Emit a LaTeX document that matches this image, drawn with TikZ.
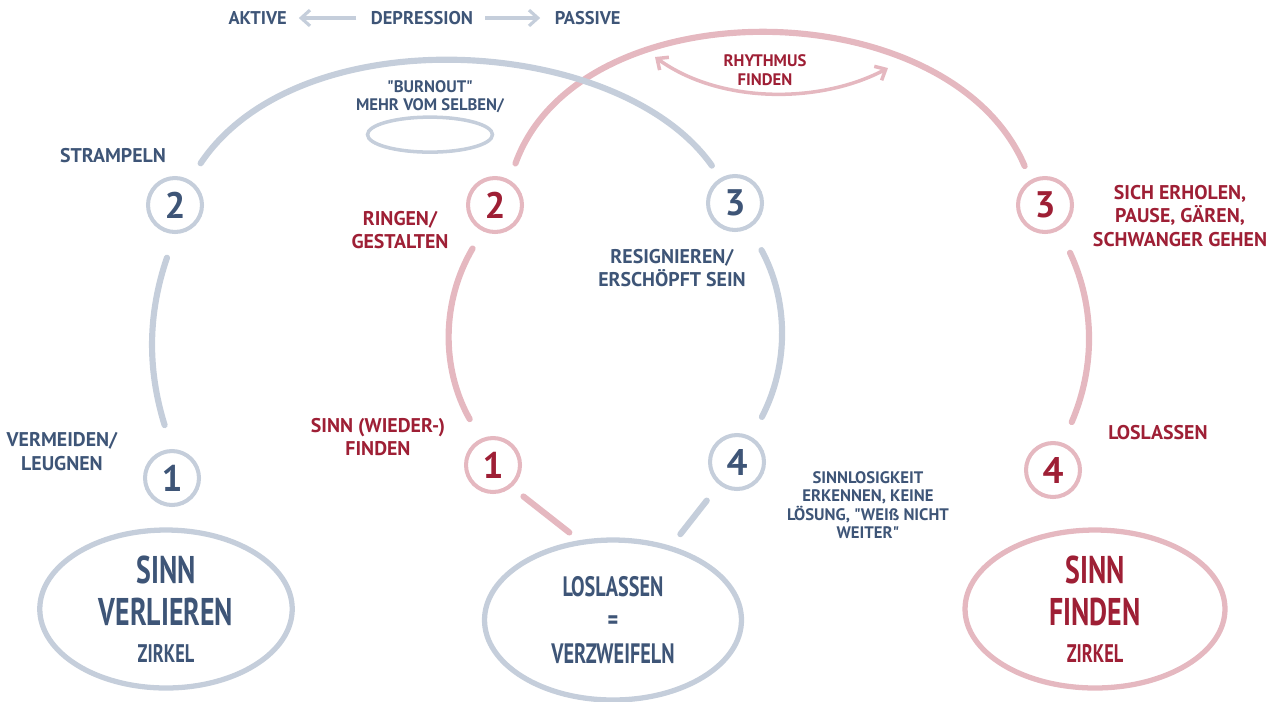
\documentclass[tikz,border=0pt]{standalone}
\usepackage{fontspec}
\setmainfont{PT Sans}
\newfontfamily\tallfont[FakeStretch=0.72]{PT Sans}
\usetikzlibrary{positioning,arrows.meta,shapes.geometric,calc}
\definecolor{cblue}{HTML}{3E5577}
\definecolor{cred}{HTML}{9E1F35}
\definecolor{lblue}{HTML}{C5CEDB}
\definecolor{lred}{HTML}{E5B8C0}

\begin{document}
\begin{tikzpicture}[x=0.02cm,y=-0.02cm,>={Straight Barb[length=5pt,width=9pt]},
  lab/.style={font=\bfseries\fontsize{11.3}{13.6}\selectfont,align=center,inner sep=1pt},
  blab/.style={lab,text=cblue}, rlab/.style={lab,text=cred},
  small/.style={font=\bfseries\fontsize{9.5}{10.4}\selectfont},
  num/.style={circle,draw,line width=2.3pt,minimum size=1.08cm,inner sep=0pt,
              font=\bfseries\fontsize{21}{21}\selectfont},
  bnum/.style={num,draw=lblue,text=cblue}, rnum/.style={num,draw=lred,text=cred},
  zirkel/.style={ellipse,draw,line width=3pt,minimum width=5.05cm,minimum height=3.16cm,
                 align=center,inner sep=0pt,font=\tallfont\bfseries\fontsize{22}{24}\selectfont},
  brush/.style={line width=3.5pt,line cap=round},
  bstroke/.style={brush,draw=lblue}, rstroke/.style={brush,draw=lred}]
\useasboundingbox (0,0) rectangle (1280,701);

% top line
\node[blab,font=\bfseries\fontsize{10.5}{12}\selectfont] (dep) at (422,18) {DEPRESSION};
\node[blab,font=\bfseries\fontsize{10.5}{12}\selectfont,left=1.6cm of dep] (akt) {AKTIVE};
\node[blab,font=\bfseries\fontsize{10.5}{12}\selectfont,right=1.55cm of dep] (pas) {PASSIVE};
\draw[->,draw=lblue,line width=1.8pt,shorten <=0.25cm,shorten >=0.2cm] (dep.west)--(akt.east);
\draw[->,draw=lblue,line width=1.8pt,shorten <=0.2cm,shorten >=0.25cm] (dep.east)--(pas.west);

% numbered steps
\node[bnum] (b1) at (172,478) {1};
\node[bnum] (b2) at (175,205) {2};
\node[bnum] (b3) at (735,203) {3};
\node[bnum] (b4) at (737,462) {4};
\node[rnum] (r1) at (493,465) {1};
\node[rnum] (r2) at (495,205) {2};
\node[rnum] (r3) at (1045,205) {3};
\node[rnum] (r4) at (1053,470) {4};

% circles at the bottom
\node[zirkel,draw=lblue,text=cblue] (eL) at (166,609)
  {SINN\\VERLIEREN\\[-3pt]{\fontsize{14.5}{15}\selectfont ZIRKEL}};
\node[zirkel,draw=lblue,text=cblue,minimum width=5.14cm,minimum height=3.2cm,
      font=\tallfont\bfseries\fontsize{16}{19}\selectfont] (eM) at (613,620)
  {LOSLASSEN\\=\\VERZWEIFELN};
\node[zirkel,draw=lred,text=cred,minimum width=5.2cm] (eR) at (1095,609)
  {SINN\\FINDEN\\[-3pt]{\fontsize{14.5}{15}\selectfont ZIRKEL}};

% labels
\node[blab] (strampeln) at (113,156) {STRAMPELN};
\node[blab] (vermeiden) at (62,452) {VERMEIDEN/\\LEUGNEN};
\node[rlab] (ringen) at (400,230) {RINGEN/\\GESTALTEN};
\node[rlab] (wieder) at (378,437) {SINN (WIEDER-)\\FINDEN};
\node[blab] (resign) at (672,268) {RESIGNIEREN/\\ERSCHÖPFT SEIN};
\node[blab,small] (sinnlos) at (868,505)
  {SINNLOSIGKEIT\\ERKENNEN, KEINE\\LÖSUNG, \textquotedbl WEIß NICHT\\WEITER\textquotedbl};
\node[rlab] (erholen) at (1180,216) {SICH ERHOLEN,\\PAUSE, GÄREN,\\SCHWANGER GEHEN};
\node[rlab] (loslassen) at (1158,433) {LOSLASSEN};
\node[blab,small] (burnout) at (430,97) {\textquotedbl BURNOUT\textquotedbl\\MEHR VOM SELBEN/};
\node[ellipse,draw=lblue,line width=2pt,minimum width=2.5cm,minimum height=0.7cm,
      below=0cm of burnout] (loop) {};
\node[rlab,small] (rhythmus) at (765,70) {RHYTHMUS\\FINDEN};
\coordinate (rhyL) at (655,57);
\coordinate (rhyR) at (888,68);
\draw[<->,draw=lred,line width=2pt] (rhyL) .. controls (720,104) and (820,104) .. (rhyR);

% connectors
\draw[rstroke,shorten <=0.35cm,shorten >=0.3cm] (r2.60) .. controls (580,-15) and (950,-10) .. (r3.120);
\draw[bstroke,shorten <=0.4cm,shorten >=0.3cm] (b2.60) .. controls (300,15) and (620,35) .. (b3.120);
\draw[bstroke,shorten <=0.5cm,shorten >=0.5cm] (b1.north) to[bend left=18] (b2.south);
\draw[bstroke,shorten <=0.5cm,shorten >=0.45cm] (b3.-60) to[bend left=28] (b4.60);
\draw[bstroke,shorten <=0.4cm,shorten >=0.3cm] (b4)--(eM);
\draw[rstroke,shorten <=0.25cm,shorten >=0.3cm] (eM.113)--(r1.-50);
\draw[rstroke,shorten <=0.45cm,shorten >=0.4cm] (r1.115) to[bend left=30] (r2.245);
\draw[rstroke,shorten <=0.5cm,shorten >=0.45cm] (r3.-60) to[bend left=24] (r4.70);
\end{tikzpicture}
\end{document}
